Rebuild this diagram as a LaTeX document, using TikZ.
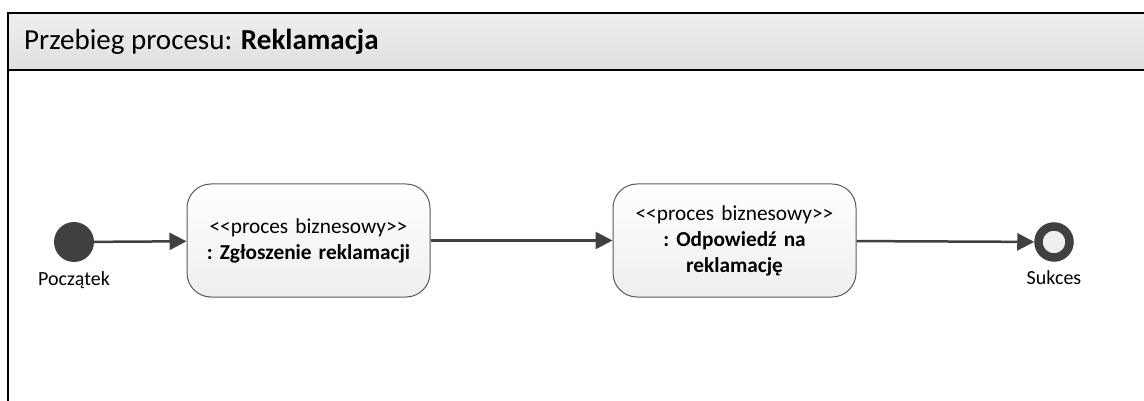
\documentclass[tikz,border=0pt]{standalone}
\usepackage{fontspec}
\setmainfont{Carlito}
\usetikzlibrary{arrows.meta, positioning}

\definecolor{linegray}{HTML}{404040}
\definecolor{boxborder}{HTML}{5A5A5A}
\definecolor{headtop}{HTML}{EFEFEF}
\definecolor{headbot}{HTML}{DFDFDF}
\definecolor{boxtop}{HTML}{FFFFFF}
\definecolor{boxbot}{HTML}{EEEEEE}

\newcommand{\stereo}[1]{<\kern0pt<#1>\kern0pt>}

\tikzset{
	procbox/.style={draw=boxborder, line width=1pt, rounded corners=24pt, top color=boxtop, bottom color=boxbot,
		minimum width=243pt, minimum height=113pt, align=center, text width=232pt, font=\fontsize{21.3}{26}\selectfont\frenchspacing},
	startnode/.style={circle, fill=linegray, minimum size=40pt, inner sep=0pt},
	endnode/.style={circle, draw=linegray, line width=8.5pt, fill=headtop, minimum size=31pt, inner sep=0pt},
	caption/.style={font=\fontsize{20}{22}\selectfont, inner sep=0pt},
	flow/.style={draw=linegray, line width=2.5pt, -{Triangle[length=17pt, width=17pt]}}
}

\begin{document}
\begin{tikzpicture}[x=1pt, y=-1pt]
	\useasboundingbox (0,0) rectangle (1144,401);
	% naglowek
	\path[top color=headtop, bottom color=headbot] (8,13) rectangle (1150,70);
	\draw[line width=2pt] (1150,13) -- (8,13) -- (8,401);
	\draw[line width=2pt] (8,70) -- (1150,70);
	\node[anchor=west, font=\fontsize{29}{32}\selectfont, inner sep=0pt] (title) at (24,42) {Przebieg procesu: \textbf{Reklamacja}};

	% wezly
	\node[startnode] (start) at (74,242) {};
	\node[caption, below=9pt of start] (startlbl) {Początek};
	\node[procbox] (zgloszenie) at (308.5,240.5) {\stereo{proces biznesowy}\\ \textbf{: Zgłoszenie reklamacji}};
	\node[procbox] (odpowiedz) at (734.5,240.5) {\stereo{proces biznesowy}\\ \textbf{: Odpowiedź na}\\ \textbf{reklamację}};
	\node[endnode] (koniec) at (1054,242) {};
	\node[caption, below=9pt of koniec] (koniecbl) {Sukces};

	% przeplyw
	\draw[flow] (start) -- (zgloszenie);
	\draw[flow] (zgloszenie) -- (odpowiedz);
	\draw[flow] (odpowiedz) -- (koniec);
\end{tikzpicture}
\end{document}
